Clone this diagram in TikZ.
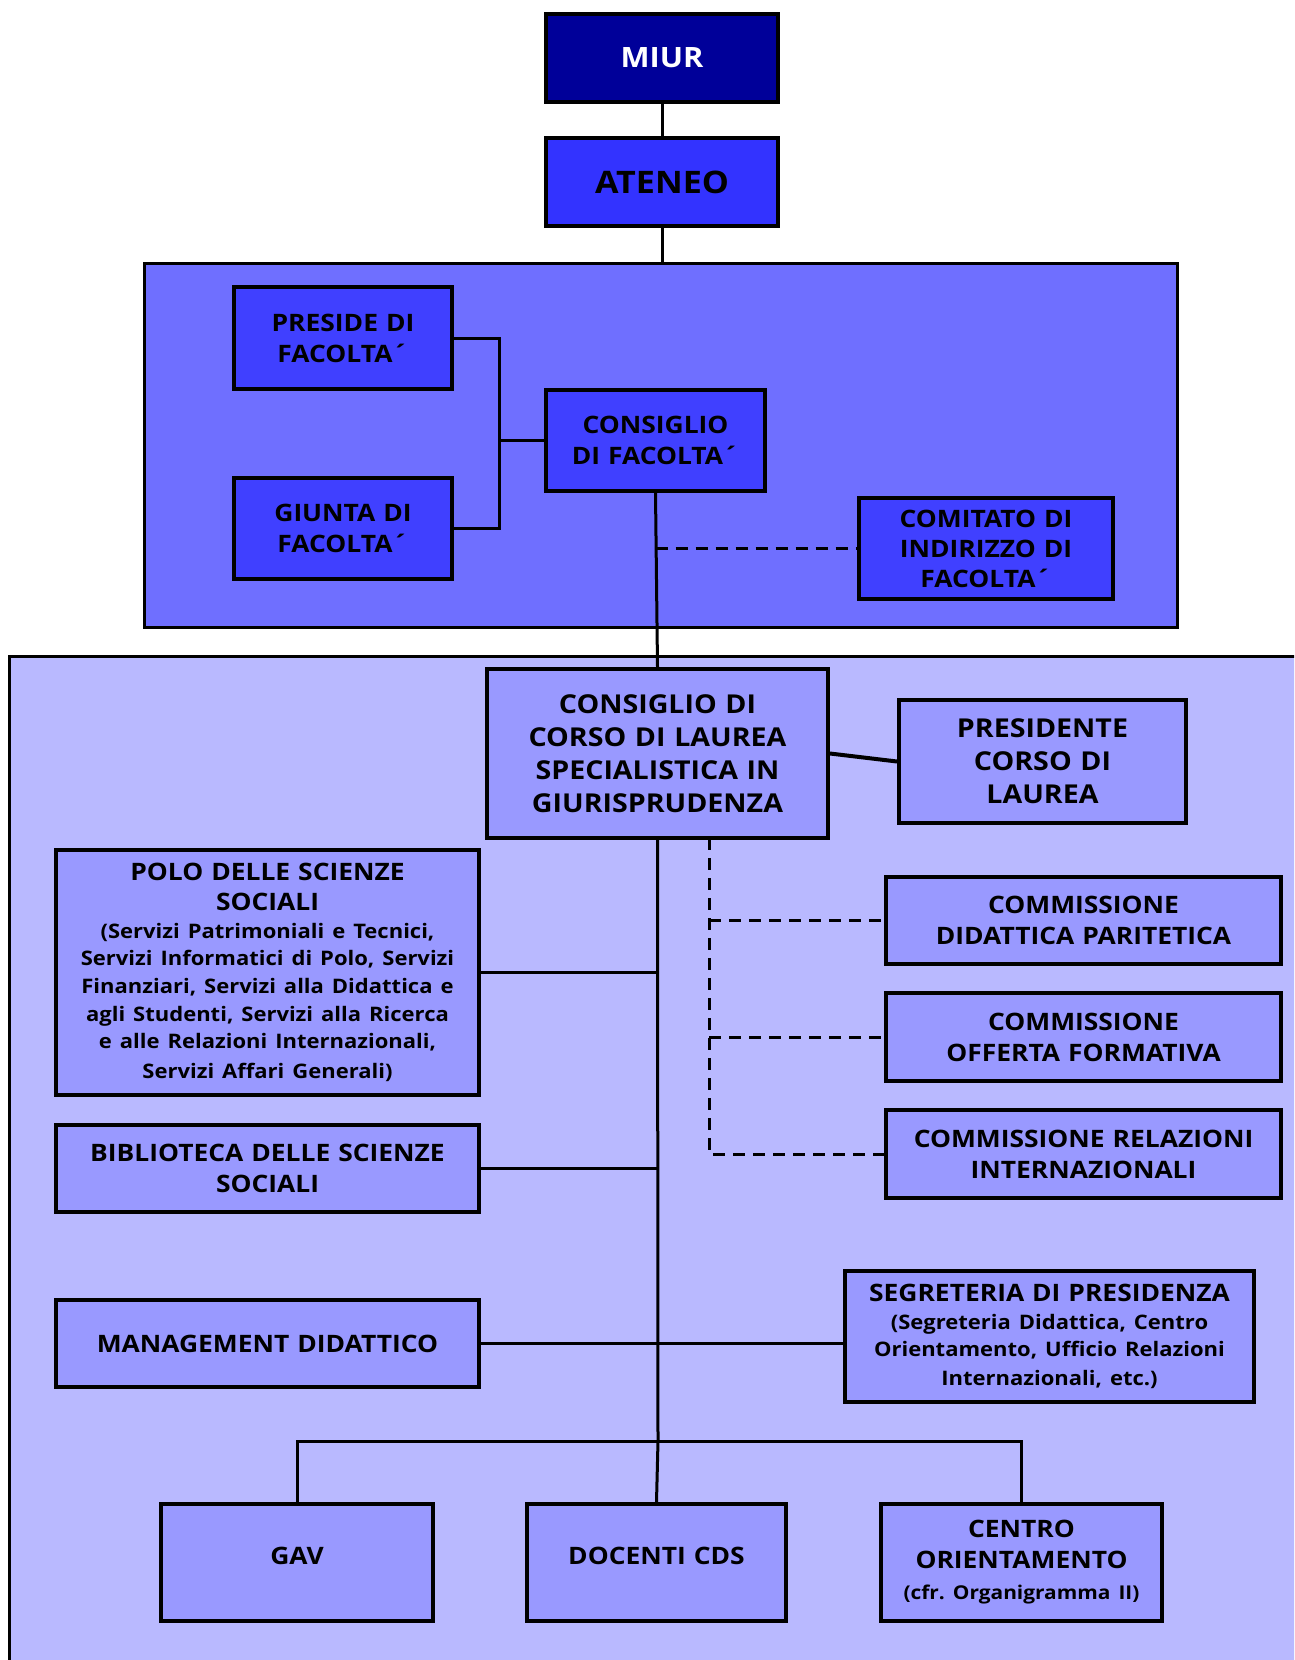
\documentclass[tikz,border=0pt]{standalone}
\usepackage{fontspec}
\setmainfont{Open Sans}[FakeStretch=1.1]
\usepackage{tikz}
\usetikzlibrary{calc,positioning}
\definecolor{miurblue}{RGB}{0,0,153}
\definecolor{ateneoblue}{RGB}{51,51,255}
\definecolor{facbg}{RGB}{111,111,255}
\definecolor{facfill}{RGB}{64,64,255}
\definecolor{cdlbg}{RGB}{185,185,255}
\definecolor{cdlfill}{RGB}{153,153,255}
\frenchspacing
\newcommand{\dettaglio}[1]{\par\fontsize{20}{27.7}\selectfont #1}
\tikzset{
  ente/.style={
    rectangle,
    draw=black, line width=4pt,
    align=center,
    inner sep=2pt,
    font=\bfseries\fontsize{24}{31}\selectfont},
  vertice/.style={ente, minimum width=232, minimum height=88,
    font=\bfseries\fontsize{28}{34}\selectfont},
  facolta/.style={ente, fill=facfill},
  corso/.style={ente, fill=cdlfill},
  area/.style={draw=black, line width=3pt},
  line/.style={draw, line width=3pt},
  dashline/.style={draw, line width=3pt, dash pattern=on 12pt off 8pt},
}
\begin{document}
\begin{tikzpicture}[x=1pt,y=-1pt]
  \clip (0,0) rectangle (1294,1660);
  % aree
  \draw[area, fill=facbg] (144,263) rectangle (1177,627);
  \draw[area, fill=cdlbg] (9,656) rectangle (1320,1700);

  % vertice
  \node[vertice, fill=miurblue, text=white] (miur) at (662,58) {MIUR};
  \node[vertice, fill=ateneoblue, font=\bfseries\fontsize{31}{36}\selectfont]
    (ateneo) at (662,182) {ATENEO};

  % facolta
  \node[facolta, minimum width=218, minimum height=102, text width=210]
    (preside) at (343,338) {PRESIDE DI\\ FACOLTA´};
  \node[facolta, minimum width=218, minimum height=101, text width=210]
    (giunta) at (343,528) {GIUNTA DI\\ FACOLTA´};
  \node[facolta, minimum width=219, minimum height=101, text width=210]
    (consfac) at (655.5,440.5) {CONSIGLIO\\ DI FACOLTA´};
  \node[facolta, minimum width=254, minimum height=101, text width=245,
    font=\bfseries\fontsize{24}{30}\selectfont]
    (comitato) at (986,548.5) {COMITATO DI\\ INDIRIZZO DI\\ FACOLTA´};

  % corso di laurea
  \node[corso, minimum width=341, minimum height=169, text width=330,
    font=\bfseries\fontsize{26}{33}\selectfont]
    (cdl) at (657.5,753.5)
    {CONSIGLIO DI\\ CORSO DI LAUREA\\ SPECIALISTICA IN\\ GIURISPRUDENZA};
  \node[corso, minimum width=287, minimum height=123, text width=278,
    font=\bfseries\fontsize{26}{33}\selectfont]
    (presidente) at (1042.5,761.5) {PRESIDENTE\\ CORSO DI\\ LAUREA};
  \node[corso, minimum width=423, minimum height=245, text width=414,
    font=\bfseries\fontsize{24}{30}\selectfont]
    (polo) at (267.5,972.5) {POLO DELLE SCIENZE\\ SOCIALI
    \dettaglio{(Servizi Patrimoniali e Tecnici,\\ Servizi Informatici di Polo, Servizi\\
    Finanziari, Servizi alla Didattica e\\ agli Studenti, Servizi alla Ricerca\\
    e alle Relazioni Internazionali,\\ Servizi Affari Generali)}};
  \node[corso, minimum width=423, minimum height=87, text width=414]
    (biblio) at (267.5,1168.5) {BIBLIOTECA DELLE SCIENZE\\ SOCIALI};
  \node[corso, minimum width=423, minimum height=87, text width=414]
    (management) at (267.5,1343.5) {MANAGEMENT DIDATTICO};
  \node[corso, minimum width=395, minimum height=87, text width=386]
    (commdid) at (1083.5,920.5) {COMMISSIONE\\ DIDATTICA PARITETICA};
  \node[corso, minimum width=395, minimum height=88, text width=386]
    (commoff) at (1083.5,1037) {COMMISSIONE\\ OFFERTA FORMATIVA};
  \node[corso, minimum width=395, minimum height=88, text width=386]
    (commrel) at (1083.5,1154) {COMMISSIONE RELAZIONI\\ INTERNAZIONALI};
  \node[corso, minimum width=409, minimum height=131, text width=400,
    font=\bfseries\fontsize{24}{29}\selectfont]
    (segreteria) at (1049.5,1336.5) {SEGRETERIA DI PRESIDENZA
    \dettaglio{(Segreteria Didattica, Centro\\ Orientamento, Ufficio Relazioni\\
    Internazionali, etc.)}};
  \node[corso, minimum width=272, minimum height=117, text width=262,
    text depth=14pt] (gav) at (297,1562.5) {GAV};
  \node[corso, minimum width=259, minimum height=117, text width=250,
    text depth=14pt] (docenti) at (656.5,1562.5) {DOCENTI CDS};
  \node[corso, minimum width=281, minimum height=117, text width=272]
    (centro) at (1021.5,1562.5) {CENTRO\\ ORIENTAMENTO
    \par\fontsize{19}{27}\selectfont (cfr. Organigramma II)};

  \coordinate (faccima) at (662,263);
  \coordinate (brk) at (499,440.5);
  \coordinate (bar) at (658,1441);
  \coordinate (dsh) at (709,838);

  % collegamenti
  \path[line] (miur) -- (ateneo);
  \path[line] (ateneo) -- (faccima);
  \path[line] (preside.east) -| (brk) |- (giunta.east);
  \path[line] (brk) -- (consfac.west);
  \path[line] (consfac.south) -- (cdl.north);
  \path[dashline] (consfac.south |- comitato.west) -- (comitato.west);
  \path[line, line width=4pt] (cdl.east) -- (presidente.west);
  \path[line] (cdl.south) -- (bar);
  \path[line] (polo.east) -- (polo.east -| bar);
  \path[line] (biblio.east) -- (biblio.east -| bar);
  \path[line] (management.east) -- (management.east -| segreteria.west);
  \path[line] (gav.north) |- (bar) -| (centro.north);
  \path[line] (bar) -- (docenti.north);
  \path[dashline] (dsh) |- (commrel.west);
  \path[dashline] (dsh |- commdid.west) -- (commdid.west);
  \path[dashline] (dsh |- commoff.west) -- (commoff.west);
\end{tikzpicture}
\end{document}
